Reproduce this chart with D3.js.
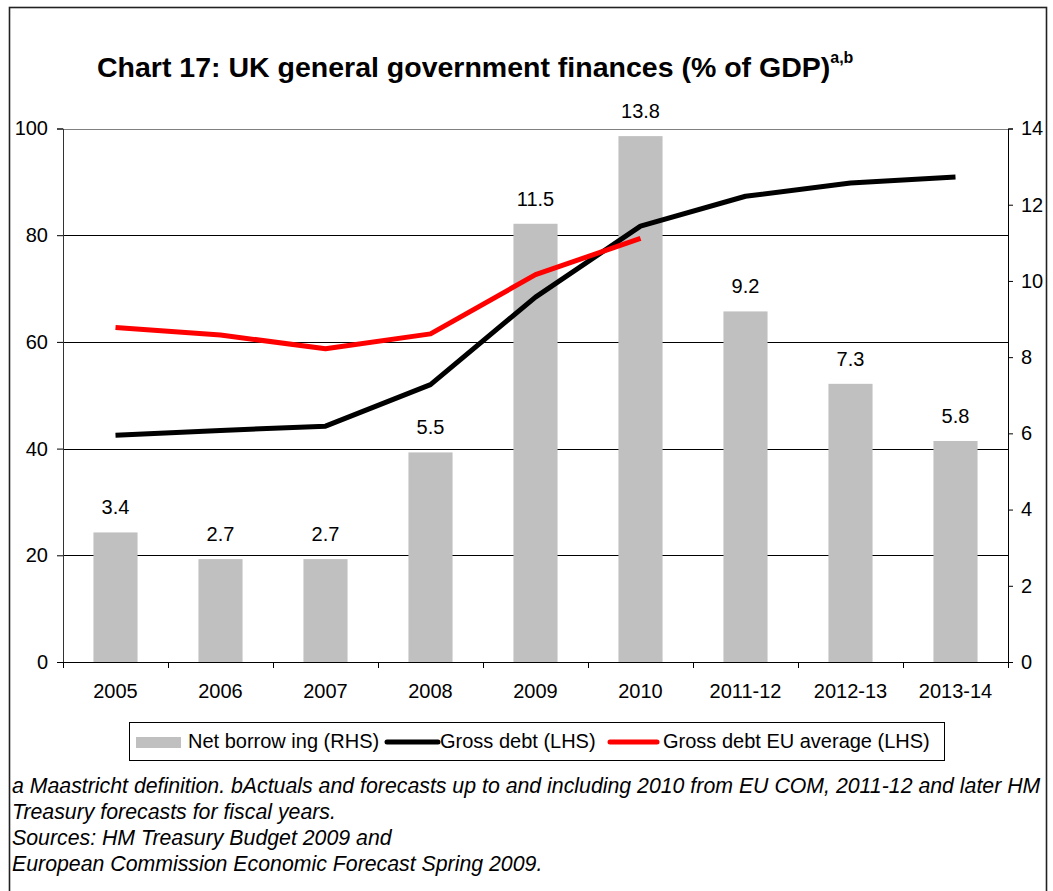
<!DOCTYPE html>
<html>
<head>
<meta charset="utf-8">
<script src="https://cdn.jsdelivr.net/npm/d3@7"></script>
<style>
  html, body { margin: 0; padding: 0; background: #fff; }
  svg { display: block; font-family: "Liberation Sans", Arial, sans-serif; }
</style>
</head>
<body>
<svg id="chart" width="1053" height="891"></svg>
<script>
// UK general government finances, % of GDP
const categories = ["2005", "2006", "2007", "2008", "2009", "2010", "2011-12", "2012-13", "2013-14"];
const netBorrowing = [3.4, 2.7, 2.7, 5.5, 11.5, 13.8, 9.2, 7.3, 5.8];          // RHS
const grossDebt = [42.5, 43.4, 44.2, 52.0, 68.4, 81.7, 87.3, 89.8, 90.9];      // LHS
const grossDebtEU = [62.7, 61.3, 58.7, 61.5, 72.6, 79.4];                      // LHS, to 2010
const leftTicks = [0, 20, 40, 60, 80, 100];
const rightTicks = [0, 2, 4, 6, 8, 10, 12, 14];
const footnotes = [
  "a Maastricht definition. bActuals and forecasts up to and including 2010 from EU COM, 2011-12 and later HM",
  "Treasury forecasts for fiscal years.",
  "Sources: HM Treasury Budget 2009 and",
  "European Commission Economic Forecast Spring 2009."
];

const svg = d3.select("#chart");
const plot = { left: 63, right: 1008, top: 128.5, bottom: 662 };

// outer frame
svg.append("rect")
  .attr("x", 9.5).attr("y", 7.5).attr("width", 1037).attr("height", 920)
  .attr("fill", "none").attr("stroke", "#222").attr("stroke-width", 1.6);

// title
const title = svg.append("text")
  .attr("x", 97).attr("y", 77)
  .attr("font-size", 28.5).attr("font-weight", "bold").attr("fill", "#000");
title.append("tspan").text("Chart 17: UK general government finances (% of GDP)");
title.append("tspan").attr("font-size", 16).attr("dy", -14).text("a,b");

const x = d3.scaleBand().domain(categories).range([plot.left, plot.right]).padding(0);
const xBar = d3.scaleBand().domain(categories).range([plot.left, plot.right])
  .paddingInner(0.58).paddingOuter(0.29);
const yL = d3.scaleLinear().domain([0, 100]).range([plot.bottom, plot.top]);
const yR = d3.scaleLinear().domain([0, 14]).range([plot.bottom, plot.top]);

// gridlines
svg.append("g").selectAll("line").data(leftTicks.filter(d => d > 0))
  .join("line")
  .attr("x1", plot.left).attr("x2", plot.right)
  .attr("y1", d => Math.round(yL(d)) + 0.5).attr("y2", d => Math.round(yL(d)) + 0.5)
  .attr("stroke", d => d === 100 ? "#808080" : "#000").attr("stroke-width", 1);

// bars (right axis)
svg.append("g").selectAll("rect").data(categories)
  .join("rect")
  .attr("x", d => xBar(d))
  .attr("width", xBar.bandwidth())
  .attr("y", (d, i) => yR(netBorrowing[i]))
  .attr("height", (d, i) => yR(0) - yR(netBorrowing[i]))
  .attr("fill", "#c0c0c0");

// bar value labels
svg.append("g").selectAll("text").data(categories)
  .join("text")
  .attr("x", d => xBar(d) + xBar.bandwidth() / 2)
  .attr("y", (d, i) => yR(netBorrowing[i]) - 18)
  .attr("text-anchor", "middle").attr("font-size", 20).attr("fill", "#000")
  .text((d, i) => netBorrowing[i].toFixed(1));

// lines (left axis)
const line = d3.line()
  .x(d => x(d.c) + x.bandwidth() / 2)
  .y(d => yL(d.v));
svg.append("path")
  .datum(grossDebt.map((v, i) => ({ c: categories[i], v })))
  .attr("d", line).attr("fill", "none").attr("stroke", "#000")
  .attr("stroke-width", 5).attr("stroke-linejoin", "round");
svg.append("path")
  .datum(grossDebtEU.map((v, i) => ({ c: categories[i], v })))
  .attr("d", line).attr("fill", "none").attr("stroke", "#ff0000")
  .attr("stroke-width", 5).attr("stroke-linejoin", "round");

// left axis
const leftAxis = svg.append("g").attr("transform", `translate(${plot.left},0)`)
  .call(d3.axisLeft(yL).tickValues(leftTicks).tickSize(6).tickPadding(9).tickFormat(d3.format("d")));
leftAxis.select(".domain").attr("stroke", "#333");
leftAxis.selectAll("text").attr("font-size", 20).attr("font-family", "Liberation Sans, Arial, sans-serif").attr("fill", "#000");

// right axis
const rightAxis = svg.append("g").attr("transform", `translate(${plot.right},0)`)
  .call(d3.axisRight(yR).tickValues(rightTicks).tickSize(5).tickPadding(8).tickFormat(d3.format("d")));
rightAxis.selectAll("text").attr("font-size", 20).attr("font-family", "Liberation Sans, Arial, sans-serif").attr("fill", "#000");

// category axis: ticks at band boundaries, labels at band centres
const xAxis = svg.append("g");
xAxis.append("line")
  .attr("x1", plot.left).attr("x2", plot.right)
  .attr("y1", plot.bottom + 0.5).attr("y2", plot.bottom + 0.5)
  .attr("stroke", "#000");
const bounds = categories.map(c => x(c)).concat([plot.right]);
xAxis.selectAll("line.tick").data(bounds).join("line").attr("class", "tick")
  .attr("x1", d => Math.round(d) + 0.5).attr("x2", d => Math.round(d) + 0.5)
  .attr("y1", plot.bottom).attr("y2", plot.bottom + 6).attr("stroke", "#000");
xAxis.selectAll("text").data(categories).join("text")
  .attr("x", d => x(d) + x.bandwidth() / 2).attr("y", 698)
  .attr("text-anchor", "middle").attr("font-size", 20).attr("fill", "#000")
  .text(d => d);

// legend
const lg = svg.append("g");
lg.append("rect").attr("x", 129.5).attr("y", 722.5).attr("width", 815).attr("height", 38)
  .attr("fill", "#fff").attr("stroke", "#000");
lg.append("rect").attr("x", 136).attr("y", 737).attr("width", 45).attr("height", 11).attr("fill", "#c0c0c0");
lg.append("text").attr("x", 188).attr("y", 748).attr("font-size", 20).text("Net borrow ing (RHS)");
lg.append("line").attr("x1", 387).attr("x2", 438).attr("y1", 742).attr("y2", 742)
  .attr("stroke", "#000").attr("stroke-width", 5).attr("stroke-linecap", "round");
lg.append("text").attr("x", 440).attr("y", 748).attr("font-size", 20).text("Gross debt (LHS)");
lg.append("line").attr("x1", 610).attr("x2", 657).attr("y1", 742).attr("y2", 742)
  .attr("stroke", "#ff0000").attr("stroke-width", 5).attr("stroke-linecap", "round");
lg.append("text").attr("x", 663).attr("y", 748).attr("font-size", 20).text("Gross debt EU average (LHS)");

// footnotes
svg.append("g").selectAll("text").data(footnotes).join("text")
  .attr("x", 12).attr("y", (d, i) => 793 + i * 26)
  .attr("font-size", 21.3).attr("font-style", "italic").attr("fill", "#000")
  .text(d => d);
</script>
</body>
</html>
